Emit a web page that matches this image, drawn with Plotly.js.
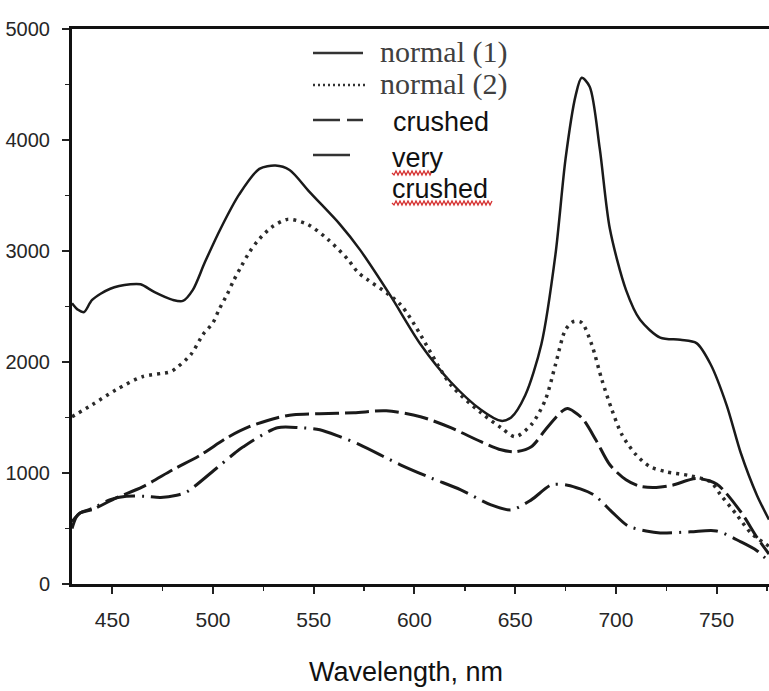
<!DOCTYPE html>
<html>
<head>
<meta charset="utf-8">
<script src="https://cdn.plot.ly/plotly-3.0.1.min.js"></script>
<style>
html,body{margin:0;padding:0;background:#fff;}
#chart{width:769px;height:691px;}
</style>
</head>
<body>
<div id="chart"></div>
<script>
// ---- data ----
const wlNormal1 = [430, 433, 436, 440, 449, 459, 464, 471, 480, 485, 490, 496, 504, 513, 523, 531, 538, 548, 563, 573, 588, 603, 618, 633, 643, 648, 655, 663, 670, 675, 680, 683, 687, 692, 697, 705, 712, 722, 732, 740, 747, 755, 762, 770, 776];
const normal1   = [2530, 2470, 2450, 2560, 2660, 2700, 2700, 2630, 2560, 2550, 2650, 2900, 3210, 3510, 3740, 3770, 3730, 3530, 3240, 3010, 2600, 2160, 1820, 1570, 1470, 1500, 1700, 2160, 2970, 3830, 4400, 4560, 4480, 3920, 3200, 2650, 2380, 2220, 2200, 2170, 1980, 1610, 1180, 800, 580];

const wlNormal2 = [430, 440, 452, 465, 479, 482, 489, 495, 500, 503, 507, 510, 514, 518, 522, 529, 537, 547, 557, 567, 572, 593, 618, 633, 643, 650, 658, 665, 670, 675, 679, 683, 688, 693, 698, 703, 710, 717, 725, 737, 747, 752, 760, 767, 776];
const normal2   = [1507, 1615, 1751, 1868, 1913, 1949, 2067, 2247, 2355, 2473, 2608, 2725, 2861, 2987, 3087, 3213, 3285, 3240, 3105, 2924, 2807, 2518, 1796, 1543, 1408, 1327, 1435, 1660, 1976, 2292, 2365, 2355, 2157, 1841, 1570, 1345, 1164, 1056, 1011, 975, 920, 803, 623, 460, 340];

const wlCrushed = [430, 434, 440, 452, 465, 480, 494, 507, 518, 532, 540, 553, 570, 586, 603, 618, 633, 643, 650, 658, 665, 673, 676, 683, 690, 697, 705, 712, 720, 728, 740, 750, 762, 770, 776];
const crushed   = [560, 640, 670, 776, 875, 1029, 1164, 1318, 1417, 1498, 1525, 1534, 1543, 1560, 1507, 1408, 1282, 1209, 1191, 1236, 1390, 1552, 1580, 1498, 1300, 1074, 939, 880, 870, 890, 950, 900, 650, 420, 270];

const wlVery = [430, 432, 434, 440, 449, 457, 466, 474, 482, 487, 502, 511, 515, 532, 543, 553, 563, 573, 593, 608, 623, 638, 648, 658, 668, 676, 689, 698, 706, 715, 722, 737, 750, 762, 770, 776];
const veryCrushed = [500, 600, 640, 680, 760, 790, 790, 780, 800, 830, 1047, 1182, 1236, 1408, 1408, 1390, 1327, 1254, 1074, 957, 848, 713, 668, 758, 893, 890, 803, 650, 523, 478, 460, 470, 478, 380, 300, 200];

const xTickVals = [450, 500, 550, 600, 650, 700, 750];
const yTickVals = [0, 1000, 2000, 3000, 4000, 5000];
const legendLabels = ["normal (1)", "normal (2)", "crushed", "very", "crushed"];
const xTitle = "Wavelength, nm";

// ---- layout helpers (pixel -> paper) ----
const L = 72, R = 769, T = 29, B = 584;
const px = x => (x - L) / (R - L);
const py = y => (B - y) / (B - T);

const lineColor = '#1a1a1a';
const traces = [
  {x: wlNormal1, y: normal1, mode: 'lines', line: {color: lineColor, width: 2.5, shape: 'spline', smoothing: 0.8}},
  {x: wlNormal2, y: normal2, mode: 'lines', line: {color: '#2a2a2a', width: 3.5, dash: '3px,5px', shape: 'spline', smoothing: 0.8}},
  {x: wlCrushed, y: crushed, mode: 'lines', line: {color: lineColor, width: 3, dash: '24px,6px', shape: 'spline', smoothing: 0.8}},
  {x: wlVery, y: veryCrushed, mode: 'lines', line: {color: lineColor, width: 3, dash: '30px,7px,2px,7px', shape: 'spline', smoothing: 0.8}}
];

function wavy(x0, x1, y) {
  let p = 'M' + px(x0) + ',' + py(y);
  let k = 0;
  for (let x = x0 + 2; x <= x1; x += 2) {
    k++;
    const yy = y + (k % 2 ? 2 : -2);
    p += ' L' + px(x) + ',' + py(yy);
  }
  return p;
}

const shapes = [
  {type: 'line', xref: 'paper', yref: 'paper', x0: px(313), x1: px(363), y0: py(53), y1: py(53), line: {color: '#333', width: 2.5}},
  {type: 'line', xref: 'paper', yref: 'paper', x0: px(313), x1: px(368), y0: py(85), y1: py(85), line: {color: '#333', width: 2.5, dash: '2px,3px'}},
  {type: 'line', xref: 'paper', yref: 'paper', x0: px(313), x1: px(340), y0: py(120), y1: py(120), line: {color: '#333', width: 2.5}},
  {type: 'line', xref: 'paper', yref: 'paper', x0: px(347), x1: px(363), y0: py(120), y1: py(120), line: {color: '#333', width: 2.5}},
  {type: 'line', xref: 'paper', yref: 'paper', x0: px(313), x1: px(350), y0: py(155), y1: py(155), line: {color: '#333', width: 2.5}},
  {type: 'path', xref: 'paper', yref: 'paper', path: wavy(392, 432, 173), line: {color: '#d63030', width: 1.3}},
  {type: 'path', xref: 'paper', yref: 'paper', path: wavy(392, 493, 203), line: {color: '#d63030', width: 1.3}}
];

const serif = {family: 'Liberation Serif, Times New Roman, serif', size: 30, color: '#404040'};
const sans = {family: 'Liberation Sans, Arial, sans-serif', size: 27, color: '#111'};
const annotations = [
  {text: legendLabels[0], x: px(378), y: py(52), xref: 'paper', yref: 'paper', xanchor: 'left', yanchor: 'middle', showarrow: false, font: serif},
  {text: legendLabels[1], x: px(378), y: py(84), xref: 'paper', yref: 'paper', xanchor: 'left', yanchor: 'middle', showarrow: false, font: serif},
  {text: legendLabels[2], x: px(391), y: py(122), xref: 'paper', yref: 'paper', xanchor: 'left', yanchor: 'middle', showarrow: false, font: sans},
  {text: legendLabels[3], x: px(390), y: py(158), xref: 'paper', yref: 'paper', xanchor: 'left', yanchor: 'middle', showarrow: false, font: sans},
  {text: legendLabels[4], x: px(390), y: py(189), xref: 'paper', yref: 'paper', xanchor: 'left', yanchor: 'middle', showarrow: false, font: sans},
  {text: xTitle, x: px(406), y: py(672), xref: 'paper', yref: 'paper', xanchor: 'center', yanchor: 'middle', showarrow: false,
   font: {family: 'Liberation Sans, Arial, sans-serif', size: 27, color: '#111'}}
];

const tickFont = {family: 'Liberation Sans, Arial, sans-serif', color: '#262626'};
const layout = {
  width: 769, height: 691,
  margin: {l: L, r: 769 - R, t: T, b: 691 - B},
  paper_bgcolor: '#fff', plot_bgcolor: '#fff',
  showlegend: false,
  xaxis: {
    range: [430, 776], tickvals: xTickVals, ticktext: xTickVals.map(String),
    ticks: 'outside', ticklen: 7, tickwidth: 2, tickcolor: '#222',
    minor: {dtick: 25, tick0: 425, ticks: 'outside', ticklen: 4, tickwidth: 1.5, tickcolor: '#222'},
    showline: true, linewidth: 3, linecolor: '#111', mirror: true,
    showgrid: false, zeroline: false,
    tickfont: Object.assign({size: 21}, tickFont), ticklabelstandoff: 8
  },
  yaxis: {
    range: [0, 5000], tickvals: yTickVals, ticktext: yTickVals.map(String),
    ticks: 'outside', ticklen: 7, tickwidth: 2, tickcolor: '#222',
    minor: {dtick: 500, tick0: 0, ticks: 'outside', ticklen: 4, tickwidth: 1.5, tickcolor: '#222'},
    showline: true, linewidth: 3, linecolor: '#111',
    showgrid: false, zeroline: false,
    tickfont: Object.assign({size: 20}, tickFont), ticklabelstandoff: 8
  },
  shapes: shapes,
  annotations: annotations
};

Plotly.newPlot('chart', traces, layout, {staticPlot: true, displayModeBar: false});
</script>
</body>
</html>
